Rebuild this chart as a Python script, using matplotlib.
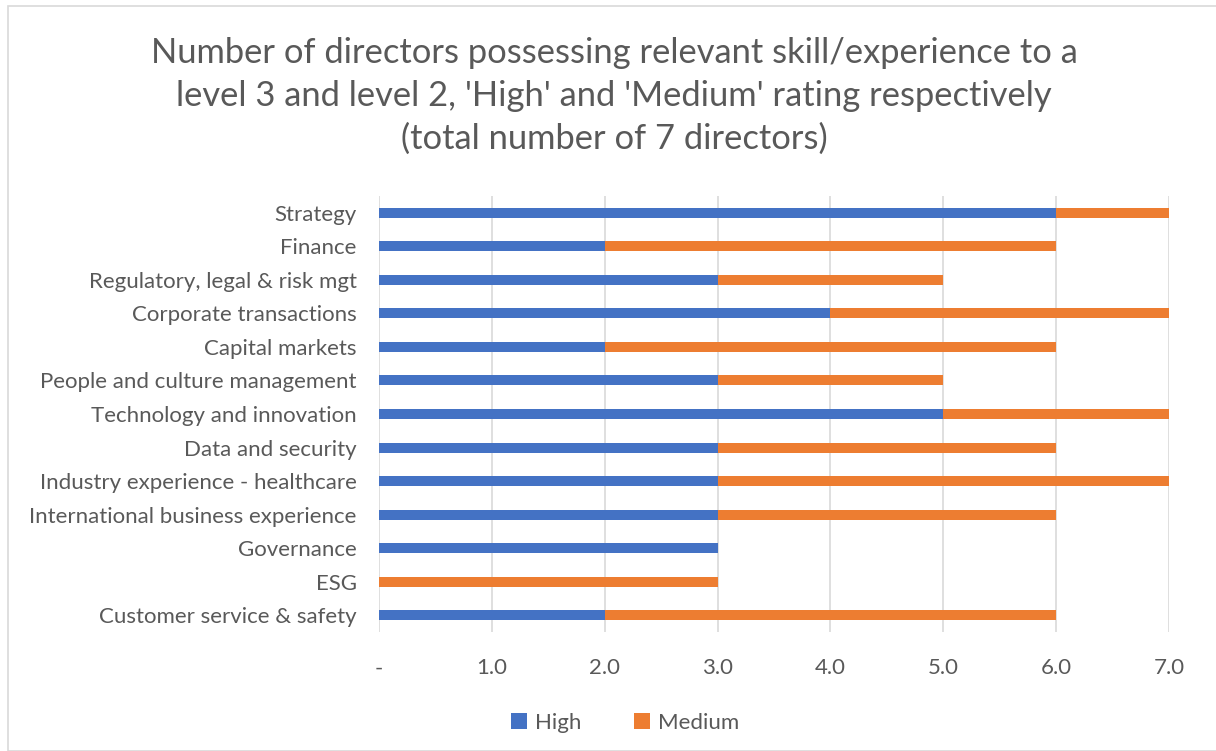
import matplotlib
matplotlib.use("Agg")
import matplotlib.pyplot as plt
from matplotlib.patches import Rectangle
from matplotlib.ticker import FixedLocator, FuncFormatter

categories = [
    "Strategy",
    "Finance",
    "Regulatory, legal & risk mgt",
    "Corporate transactions",
    "Capital markets",
    "People and culture management",
    "Technology and innovation",
    "Data and security",
    "Industry experience - healthcare",
    "International business experience",
    "Governance",
    "ESG",
    "Customer service & safety",
]
high = [6, 2, 3, 4, 2, 3, 5, 3, 3, 3, 3, 0, 2]
medium = [1, 4, 2, 3, 4, 2, 2, 3, 4, 3, 0, 3, 4]
x_ticks = [0, 1, 2, 3, 4, 5, 6, 7]

title = ("Number of directors possessing relevant skill/experience to a\n"
         "level 3 and level 2, 'High' and 'Medium' rating respectively\n"
         "(total number of 7 directors)")

plt.rcParams['font.family'] = ['Lato', 'DejaVu Sans']
TXT = '#595959'

fig = plt.figure(figsize=(12.16, 7.51), dpi=100)
fig.patches.append(Rectangle((8/1216, 0), 1.1, (751-6)/751, transform=fig.transFigure,
                             fill=False, edgecolor='#d9d9d9', linewidth=1.2))

ax = fig.add_axes([379/1216, 1-632/751, (1169-379)/1216, (632-196)/751])
y = list(range(len(categories)))
ax.barh(y, high, height=0.3, color='#4472C4', label='High')
ax.barh(y, medium, left=high, height=0.3, color='#ED7D31', label='Medium')
ax.set_ylim(len(categories)-0.5, -0.5)
ax.set_xlim(0, 7)
ax.set_yticks(y)
ax.set_yticklabels(categories)
ax.xaxis.set_major_locator(FixedLocator(x_ticks))
ax.xaxis.set_major_formatter(FuncFormatter(lambda v, p: '-' if v == 0 else f"{v:.1f}"))
ax.tick_params(axis='both', length=0, labelcolor=TXT)
ax.tick_params(axis='y', pad=16, labelsize=16)
ax.tick_params(axis='x', pad=19, labelsize=16)
ax.grid(axis='x', color='#d9d9d9', linewidth=1.2)
ax.set_axisbelow(True)
for s in ax.spines.values():
    s.set_visible(False)

fig.text(614/1216, 1-96/751, title, ha='center', va='center', fontsize=24.8,
         color=TXT, linespacing=1.42)

fig.legend(loc='center', bbox_to_anchor=(625/1216, 1-723/751), ncol=2, frameon=False,
           fontsize=16, labelcolor=TXT, handlelength=0.7, handleheight=0.7,
           columnspacing=2.4, handletextpad=0.35)

fig.savefig('out.png', dpi=100)
